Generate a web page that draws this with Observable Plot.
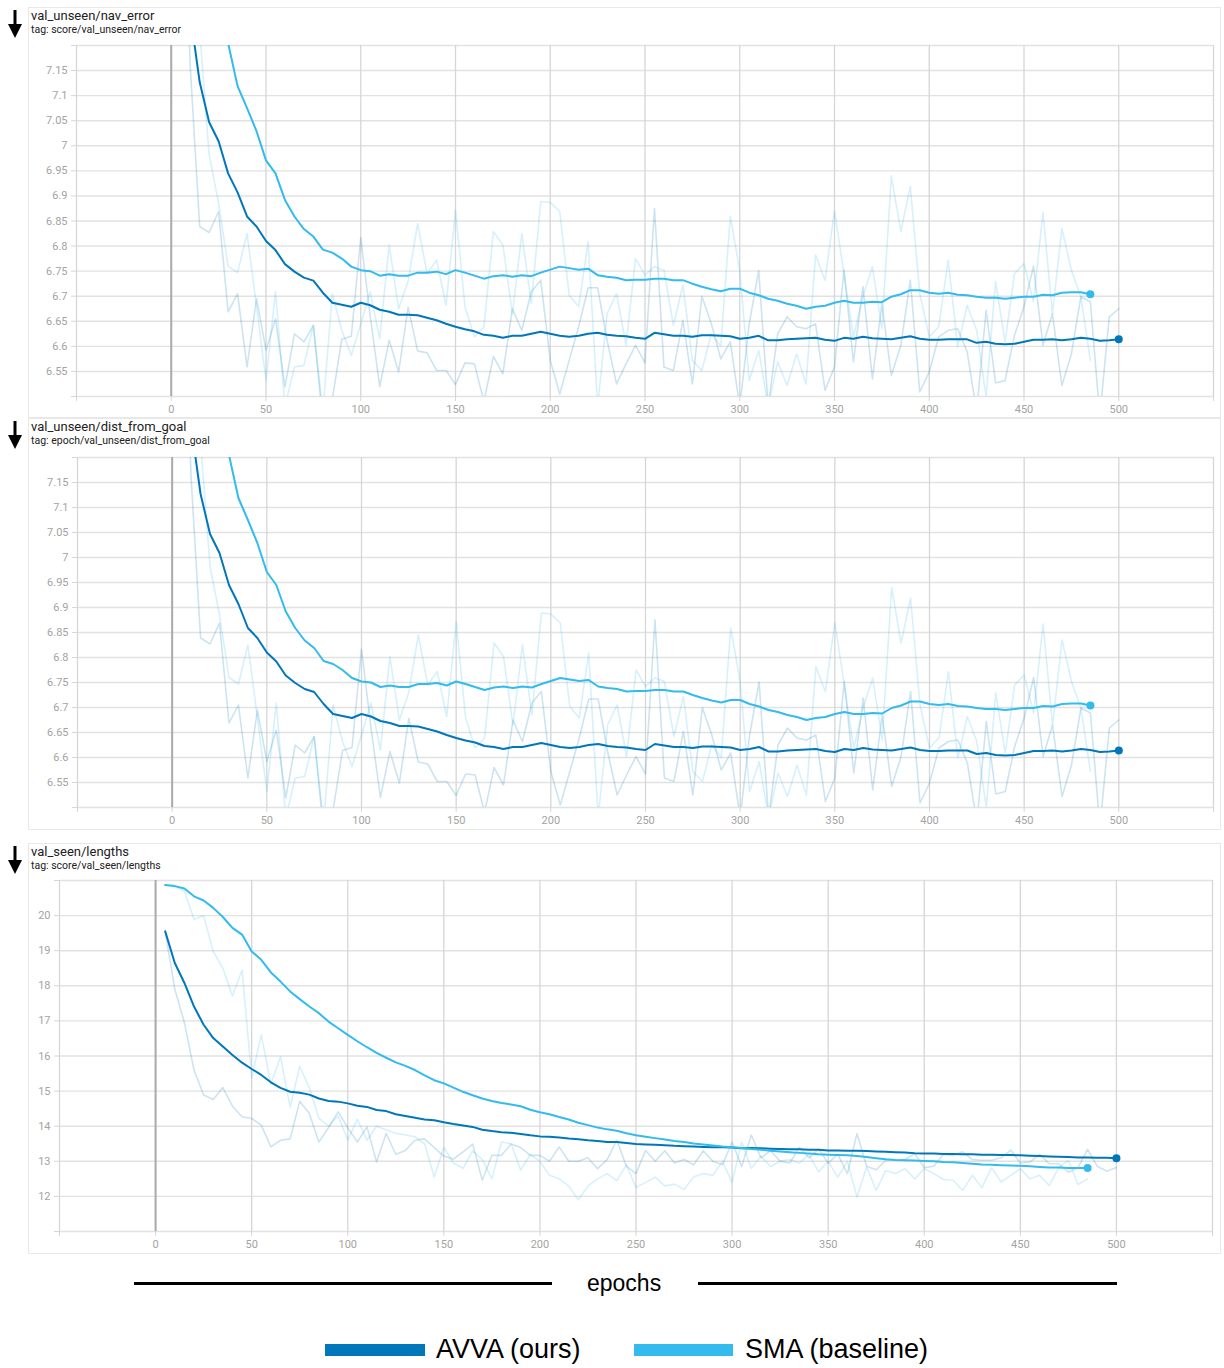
<!DOCTYPE html>
<html>
<head>
<meta charset="utf-8">
<script src="https://cdn.jsdelivr.net/npm/d3@7"></script>
<script src="https://cdn.jsdelivr.net/npm/@observablehq/plot@0.6"></script>
<style>
  body { margin: 0; background: #fff; width: 1224px; height: 1368px; position: relative; overflow: hidden; font-family: Roboto, "Noto Sans", sans-serif; }
  .card { position: absolute; border: 1px solid #e8e8e8; background: #fff; box-sizing: border-box; }
  .title { position: absolute; left: 31px; font-size: 13px; line-height: 14px; color: #212121; white-space: nowrap; }
  .tag { position: absolute; left: 31px; font-size: 10.5px; line-height: 12px; color: #212121; white-space: nowrap; }
  .arrow { position: absolute; left: 7px; }
  .plot { position: absolute; left: 0; }
  .plot svg { overflow: visible; }
  .hline { position: absolute; height: 3px; background: #000; }
  .xlabel { position: absolute; font-family: "Liberation Sans", Arial, sans-serif; font-size: 23px; color: #000; }
  .swatch { position: absolute; height: 12px; width: 100px; }
  .legtext { position: absolute; font-family: "Liberation Sans", Arial, sans-serif; font-size: 27px; color: #000; white-space: nowrap; }
</style>
</head>
<body>
<div id="root"></div>
<script>
// ---------- data ----------
const epochs = [
  5,10,15,20,25,30,35,40,45,50, 55,60,65,70,75,80,85,90,95,100,
  105,110,115,120,125,130,135,140,145,150, 155,160,165,170,175,180,185,190,195,200,
  205,210,215,220,225,230,235,240,245,250, 255,260,265,270,275,280,285,290,295,300,
  305,310,315,320,325,330,335,340,345,350, 355,360,365,370,375,380,385,390,395,400,
  405,410,415,420,425,430,435,440,445,450, 455,460,465,470,475,480,485,490,495,500
];

const seriesNames = ["AVVA (ours)", "SMA (baseline)"];
const seriesColors = ["#0077bb", "#33bbee"];

// val_unseen/nav_error (also matches val_unseen/dist_from_goal in the figure)
const navAvvaRaw = [
  7.70,7.16,6.839,6.827,6.869,6.669,6.705,6.559,6.695,6.592,
  6.655,6.519,6.625,6.609,6.642,6.45,6.495,6.614,6.62,6.817,
  6.66,6.52,6.612,6.549,6.678,6.591,6.587,6.552,6.552,6.524,
  6.567,6.565,6.49,6.58,6.545,6.675,6.632,6.709,6.732,6.572,
  6.505,6.572,6.639,6.717,6.717,6.612,6.525,6.565,6.602,6.567,
  6.875,6.559,6.552,6.652,6.525,6.70,6.645,6.575,6.609,6.48,
  6.645,6.751,6.48,6.625,6.659,6.639,6.635,6.645,6.512,6.559,
  6.752,6.569,6.719,6.535,6.685,6.542,6.602,6.732,6.509,6.549,
  6.619,6.632,6.635,6.589,6.47,6.672,6.527,6.532,6.622,6.679,
  6.76,6.602,6.665,6.522,6.585,6.699,6.689,6.46,6.659,6.675
];
const navSmaRaw = [
  8.2,7.7,7.23,6.982,6.885,6.76,6.747,6.825,6.68,6.532,
  6.709,6.48,6.559,6.562,6.642,6.47,6.705,6.632,6.582,6.645,
  6.709,6.615,6.802,6.675,6.73,6.845,6.745,6.772,6.682,6.872,
  6.679,6.619,6.639,6.829,6.802,6.665,6.825,6.685,6.889,6.887,
  6.869,6.702,6.679,6.809,6.48,6.665,6.705,6.602,6.775,6.742,
  6.759,6.752,6.642,6.722,6.572,6.552,6.625,6.6,6.859,6.752,
  6.532,6.592,6.48,6.569,6.522,6.585,6.525,6.782,6.732,6.87,
  6.745,6.619,6.70,6.759,6.635,6.94,6.829,6.919,6.705,6.619,
  6.639,6.772,6.599,6.682,6.632,6.50,6.729,6.609,6.745,6.765,
  6.689,6.867,6.665,6.835,6.752,6.699,6.572
];
const navAvvaSmooth = [
  7.45,7.264,7.127,7.047,7.009,6.945,6.907,6.859,6.839,6.81,
  6.792,6.764,6.749,6.737,6.731,6.707,6.687,6.683,6.679,6.687,
  6.682,6.673,6.669,6.663,6.663,6.662,6.657,6.652,6.645,6.639,
  6.634,6.63,6.623,6.621,6.617,6.621,6.621,6.625,6.629,6.625,
  6.621,6.619,6.621,6.625,6.627,6.623,6.621,6.62,6.617,6.615,
  6.627,6.624,6.621,6.621,6.619,6.622,6.622,6.621,6.62,6.615,
  6.617,6.621,6.612,6.612,6.614,6.615,6.616,6.617,6.613,6.611,
  6.617,6.615,6.619,6.616,6.615,6.614,6.617,6.62,6.615,6.613,
  6.613,6.614,6.614,6.614,6.607,6.609,6.605,6.604,6.605,6.609,
  6.613,6.613,6.614,6.612,6.614,6.617,6.615,6.611,6.612,6.614
];
const navSmaSmooth = [
  7.6,7.5,7.42,7.36,7.3,7.205,7.119,7.075,7.029,6.971,
  6.945,6.892,6.859,6.834,6.819,6.793,6.787,6.775,6.759,6.752,
  6.75,6.741,6.744,6.741,6.741,6.747,6.747,6.749,6.744,6.752,
  6.747,6.741,6.735,6.74,6.742,6.739,6.742,6.74,6.747,6.753,
  6.759,6.756,6.753,6.755,6.742,6.739,6.737,6.732,6.733,6.733,
  6.735,6.735,6.732,6.732,6.725,6.719,6.714,6.71,6.715,6.715,
  6.707,6.702,6.695,6.691,6.685,6.681,6.675,6.679,6.681,6.687,
  6.691,6.687,6.687,6.689,6.688,6.699,6.704,6.712,6.712,6.707,
  6.705,6.707,6.703,6.702,6.699,6.697,6.697,6.695,6.697,6.699,
  6.699,6.703,6.702,6.707,6.708,6.708,6.704
];

// val_seen/lengths
const lenAvvaRaw = [
  19.55,17.9,16.95,15.6,14.89,14.76,15.1,14.57,14.27,14.22,
  14.03,13.41,13.6,13.64,14.71,14.36,13.55,13.96,14.41,13.96,
  13.55,13.98,12.98,13.79,13.2,13.31,13.6,13.64,13.39,13.15,
  13.06,13.27,13.49,12.46,13.17,13.17,13.49,13.39,13.17,13.17,
  13.0,13.41,13.0,13.0,13.1,12.79,13.05,13.6,12.86,12.65,
  13.31,13.0,13.3,12.95,13.05,12.9,13.3,13.0,12.9,13.55,
  12.85,13.75,13.1,13.3,13.0,12.95,13.4,13.1,13.35,12.95,
  13.2,12.65,13.79,12.86,12.76,13.03,13.03,13.05,13.22,12.82,
  12.86,13.2,13.17,13.27,13.05,13.03,13.03,13.1,13.32,12.95,
  12.98,13.2,12.93,12.93,12.69,12.82,13.34,12.86,12.72,12.82
];
const lenSmaRaw = [
  20.87,20.82,20.7,19.89,20.0,18.98,18.5,17.71,18.45,15.38,
  16.6,15.2,15.98,14.55,15.7,15.1,14.22,14.0,14.3,13.6,
  14.2,13.6,14.0,13.9,13.8,13.75,13.7,13.5,12.55,13.4,
  12.95,12.8,13.3,13.05,12.5,13.55,13.5,12.75,13.2,13.0,
  12.6,12.5,12.3,11.9,12.3,12.5,12.65,12.45,12.9,12.25,
  12.4,12.55,12.3,12.35,12.2,12.55,12.65,12.6,13.0,12.4,
  13.55,12.8,13.15,12.85,13.0,13.05,12.95,13.2,12.7,13.0,
  12.55,13.0,11.98,12.84,12.17,12.74,12.65,12.79,12.5,12.79,
  12.65,12.48,12.46,12.17,12.6,12.25,12.82,12.41,12.6,12.79,
  12.5,12.6,12.31,12.82,13.03,12.34,12.5
];
const lenAvvaSmooth = [
  19.55,18.65,18.08,17.41,16.89,16.51,16.27,16.03,15.81,15.63,
  15.46,15.25,15.09,14.98,14.95,14.9,14.79,14.72,14.7,14.65,
  14.58,14.55,14.46,14.43,14.34,14.29,14.24,14.19,14.17,14.11,
  14.06,14.02,13.98,13.9,13.86,13.83,13.81,13.78,13.74,13.71,
  13.7,13.68,13.65,13.63,13.6,13.58,13.55,13.55,13.52,13.49,
  13.48,13.47,13.46,13.44,13.43,13.42,13.41,13.4,13.4,13.39,
  13.37,13.38,13.37,13.36,13.35,13.34,13.34,13.33,13.33,13.31,
  13.31,13.3,13.3,13.29,13.28,13.27,13.26,13.25,13.23,13.22,
  13.22,13.21,13.21,13.2,13.2,13.19,13.19,13.18,13.18,13.17,
  13.16,13.15,13.14,13.13,13.12,13.11,13.11,13.1,13.1,13.09
];
const lenSmaSmooth = [
  20.87,20.84,20.77,20.55,20.43,20.22,19.96,19.65,19.46,18.98,
  18.74,18.38,18.12,17.84,17.62,17.41,17.22,16.98,16.79,16.6,
  16.42,16.25,16.09,15.95,15.82,15.72,15.6,15.45,15.31,15.22,
  15.1,14.98,14.88,14.79,14.72,14.66,14.62,14.57,14.47,14.4,
  14.34,14.26,14.19,14.1,14.03,13.96,13.91,13.87,13.8,13.74,
  13.7,13.66,13.62,13.58,13.55,13.51,13.48,13.45,13.42,13.4,
  13.38,13.35,13.33,13.3,13.28,13.26,13.24,13.22,13.2,13.19,
  13.18,13.17,13.15,13.12,13.09,13.06,13.04,13.03,13.02,13.01,
  13.0,12.98,12.97,12.95,12.93,12.91,12.9,12.89,12.88,12.87,
  12.86,12.84,12.82,12.82,12.81,12.81,12.81
];

// ticks
const xTicks = [-50, 0, 50, 100, 150, 200, 250, 300, 350, 400, 450, 500, 550];
const xTickLabels = ["", "0", "50", "100", "150", "200", "250", "300", "350", "400", "450", "500", ""];
const navYTicks = [6.5, 6.55, 6.6, 6.65, 6.7, 6.75, 6.8, 6.85, 6.9, 6.95, 7, 7.05, 7.1, 7.15, 7.2];
const navYLabels = ["", "6.55", "6.6", "6.65", "6.7", "6.75", "6.8", "6.85", "6.9", "6.95", "7", "7.05", "7.1", "7.15", ""];
const lenYTicks = [11, 12, 13, 14, 15, 16, 17, 18, 19, 20, 21];
const lenYLabels = ["", "12", "13", "14", "15", "16", "17", "18", "19", "20", ""];

const panels = [
  { title: "val_unseen/nav_error", tag: "tag: score/val_unseen/nav_error",
    cardTop: 7, cardH: 411, plotTop: 45, plotBottom: 396, left: 76, right: 1213,
    yDomain: [6.5, 7.2], yTicks: navYTicks, yLabels: navYLabels,
    data: [navAvvaRaw, navSmaRaw, navAvvaSmooth, navSmaSmooth] },
  { title: "val_unseen/dist_from_goal", tag: "tag: epoch/val_unseen/dist_from_goal",
    cardTop: 418, cardH: 412, plotTop: 457, plotBottom: 807, left: 77, right: 1213,
    yDomain: [6.5, 7.2], yTicks: navYTicks, yLabels: navYLabels,
    data: [navAvvaRaw, navSmaRaw, navAvvaSmooth, navSmaSmooth] },
  { title: "val_seen/lengths", tag: "tag: score/val_seen/lengths",
    cardTop: 843, cardH: 411, plotTop: 880, plotBottom: 1231, left: 59, right: 1212,
    yDomain: [11, 21], yTicks: lenYTicks, yLabels: lenYLabels,
    data: [lenAvvaRaw, lenSmaRaw, lenAvvaSmooth, lenSmaSmooth] }
];

// ---------- drawing ----------
const root = document.getElementById("root");

function el(tag, cls, style, text) {
  const e = document.createElement(tag);
  if (cls) e.className = cls;
  Object.assign(e.style, style || {});
  if (text != null) e.textContent = text;
  root.appendChild(e);
  return e;
}

function arrowSvg(top) {
  const ns = "http://www.w3.org/2000/svg";
  const s = document.createElementNS(ns, "svg");
  s.setAttribute("width", 16); s.setAttribute("height", 28);
  s.setAttribute("class", "arrow");
  s.style.top = top + "px";
  s.innerHTML = '<rect x="6.5" y="0" width="3" height="16" fill="#000"/><path d="M1,14 L15,14 L8,28 Z" fill="#000"/>';
  root.appendChild(s);
}

function toRows(values, name) {
  return values.map((v, i) => ({ epoch: epochs[i], value: v, series: name }));
}

panels.forEach(p => {
  el("div", "card", { left: "28px", top: p.cardTop + "px", width: "1193px", height: p.cardH + "px" });
  arrowSvg(p.cardTop + 3);
  el("div", "title", { top: (p.cardTop + 2) + "px" }, p.title);
  el("div", "tag", { top: (p.cardTop + 17) + "px" }, p.tag);

  const [aRaw, sRaw, aSm, sSm] = p.data;
  const avvaRaw = toRows(aRaw, seriesNames[0]);
  const smaRaw = toRows(sRaw, seriesNames[1]);
  const avvaSm = toRows(aSm, seriesNames[0]);
  const smaSm = toRows(sSm, seriesNames[1]);

  const mTop = 5, mBottom = 26;
  const plotH = p.plotBottom - p.plotTop;
  const chart = Plot.plot({
    width: 1224,
    height: mTop + plotH + mBottom,
    marginTop: mTop,
    marginBottom: mBottom,
    marginLeft: p.left,
    marginRight: 1224 - p.right,
    x: { domain: [-50, 550], axis: null },
    y: { domain: p.yDomain, axis: null },
    style: { background: "transparent", fontFamily: "Roboto, sans-serif", overflow: "visible" },
    marks: [
      Plot.ruleY(p.yTicks, { stroke: "#e2e2e2", strokeWidth: 1.4 }),
      Plot.ruleX(xTicks, { stroke: "#d6d6d6", strokeWidth: 1.3 }),
      Plot.axisY({ ticks: p.yTicks, label: null, tickSize: 5, tickPadding: 4, stroke: "#d6d6d6", fill: "#a3a3a3", fontSize: 11,
        tickFormat: d => p.yLabels[p.yTicks.indexOf(d)] }),
      Plot.axisX({ ticks: xTicks, label: null, tickSize: 5, tickPadding: 4, stroke: "#d6d6d6", fill: "#a3a3a3", fontSize: 11,
        tickFormat: d => xTickLabels[xTicks.indexOf(d)] }),
      Plot.ruleX([0], { stroke: "#ababab", strokeWidth: 2 }),
      Plot.line(avvaRaw, { x: "epoch", y: "value", stroke: seriesColors[0], strokeOpacity: 0.2, strokeWidth: 1.6, clip: true }),
      Plot.line(smaRaw, { x: "epoch", y: "value", stroke: seriesColors[1], strokeOpacity: 0.2, strokeWidth: 1.6, clip: true }),
      Plot.line(avvaSm, { x: "epoch", y: "value", stroke: seriesColors[0], strokeWidth: 2, clip: true }),
      Plot.line(smaSm, { x: "epoch", y: "value", stroke: seriesColors[1], strokeWidth: 2, clip: true }),
      Plot.dot([avvaSm[avvaSm.length - 1]], { x: "epoch", y: "value", fill: seriesColors[0], r: 4 }),
      Plot.dot([smaSm[smaSm.length - 1]], { x: "epoch", y: "value", fill: seriesColors[1], r: 4 })
    ]
  });
  const wrap = el("div", "plot", { top: (p.plotTop - mTop) + "px" });
  wrap.appendChild(chart);
});

// x-axis caption with lines
el("div", "hline", { left: "134px", top: "1282px", width: "418px" });
el("div", "hline", { left: "698px", top: "1282px", width: "419px" });
el("div", "xlabel", { left: "587px", top: "1270px" }, "epochs");

// legend
el("div", "swatch", { left: "325px", top: "1344px", background: seriesColors[0] });
el("div", "legtext", { left: "436px", top: "1334px" }, seriesNames[0]);
el("div", "swatch", { left: "634px", top: "1344px", width: "99px", background: seriesColors[1] });
el("div", "legtext", { left: "745px", top: "1334px" }, seriesNames[1]);
</script>
</body>
</html>
